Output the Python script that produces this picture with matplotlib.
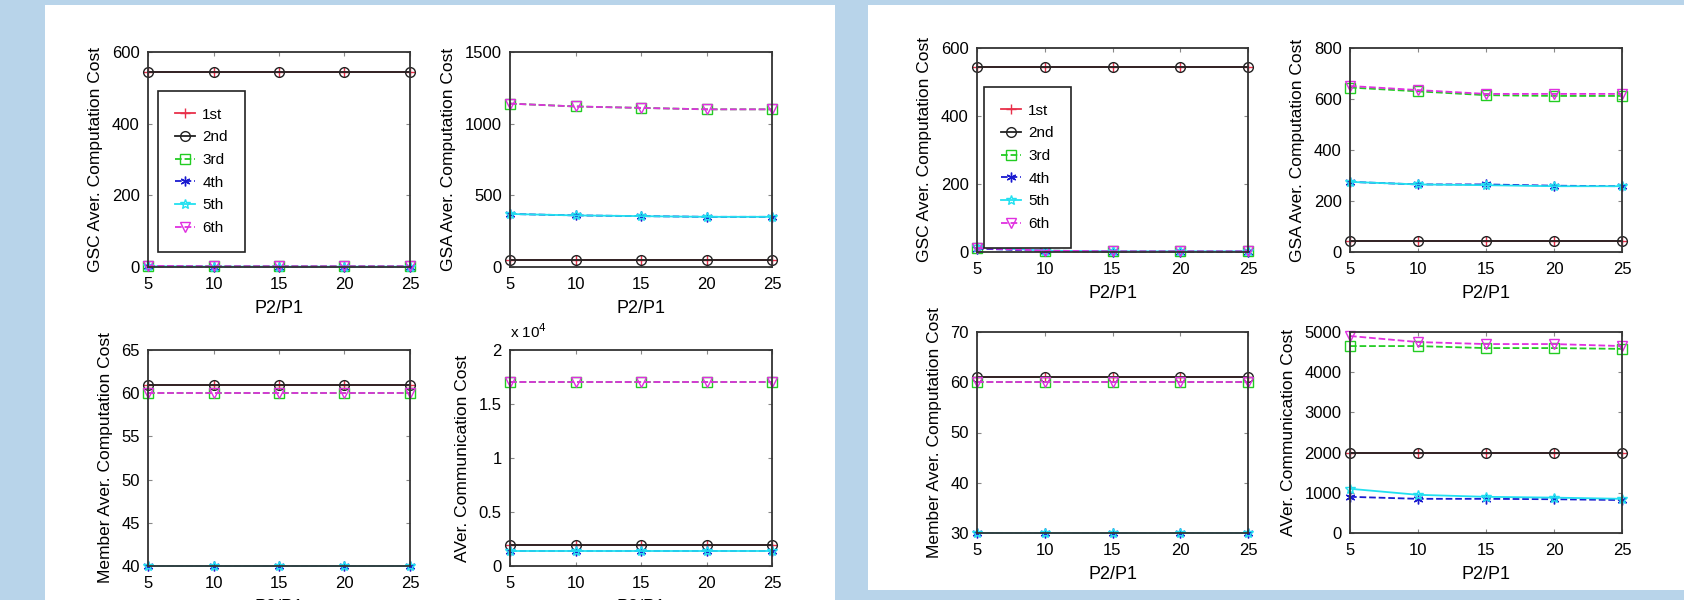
import numpy as np
import matplotlib.pyplot as plt
from matplotlib.patches import Rectangle
from matplotlib.ticker import FuncFormatter

plt.rcParams['font.family'] = ['Liberation Sans', 'DejaVu Sans']

# x axis values (P2/P1)
ratio = [5, 10, 15, 20, 25]
labels = ['1st', '2nd', '3rd', '4th', '5th', '6th']

# ---- left figure ----
L_gsc = [
    [545, 545, 545, 545, 545],
    [545, 545, 545, 545, 545],
    [3, 2, 2, 2, 2],
    [2, 1, 1, 1, 1],
    [2, 1, 1, 1, 1],
    [3, 2, 2, 2, 2],
]
L_gsa = [
    [50, 50, 50, 50, 50],
    [50, 50, 50, 50, 50],
    [1140, 1120, 1110, 1100, 1100],
    [370, 360, 355, 350, 350],
    [370, 360, 355, 350, 350],
    [1140, 1120, 1110, 1100, 1100],
]
L_member = [
    [61, 61, 61, 61, 61],
    [61, 61, 61, 61, 61],
    [60, 60, 60, 60, 60],
    [40, 40, 40, 40, 40],
    [40, 40, 40, 40, 40],
    [60, 60, 60, 60, 60],
]
L_comm = [
    [1900, 1900, 1900, 1900, 1900],
    [1900, 1900, 1900, 1900, 1900],
    [17000, 17000, 17000, 17000, 17000],
    [1400, 1400, 1400, 1400, 1400],
    [1400, 1400, 1400, 1400, 1400],
    [17000, 17000, 17000, 17000, 17000],
]

# ---- right figure ----
R_gsc = [
    [545, 545, 545, 545, 545],
    [545, 545, 545, 545, 545],
    [12, 4, 2, 2, 2],
    [10, 3, 1, 1, 1],
    [15, 4, 2, 2, 2],
    [12, 4, 2, 2, 2],
]
R_gsa = [
    [45, 45, 45, 45, 45],
    [45, 45, 45, 45, 45],
    [645, 630, 615, 612, 612],
    [275, 265, 265, 260, 258],
    [275, 265, 262, 258, 258],
    [651, 635, 620, 620, 620],
]
R_member = [
    [61, 61, 61, 61, 61],
    [61, 61, 61, 61, 61],
    [60, 60, 60, 60, 60],
    [30, 30, 30, 30, 30],
    [30, 30, 30, 30, 30],
    [60, 60, 60, 60, 60],
]
R_comm = [
    [2000, 2000, 2000, 2000, 2000],
    [2000, 2000, 2000, 2000, 2000],
    [4650, 4650, 4600, 4600, 4580],
    [900, 850, 850, 840, 820],
    [1100, 950, 900, 880, 850],
    [4900, 4750, 4700, 4700, 4650],
]

colors = ['#e8304a', '#222222', '#22cc22', '#1a1ad0', '#22e0f0', '#e030e0']
markers = ['+', 'o', 's', (6, 2, 0), '*', 'v']
styles = ['-', '-', '--', '--', '-', '--']

fig = plt.figure(figsize=(16.84, 6.0), dpi=100)
fig.patch.set_facecolor('#b8d4ea')
W, H = 1684.0, 600.0
# white panels behind the two figures
fig.patches.append(Rectangle((45 / W, 0), 790 / W, 595 / H, transform=fig.transFigure,
                             facecolor='white', edgecolor='none', zorder=-5))
fig.patches.append(Rectangle((868 / W, 10 / H), 816 / W, 585 / H, transform=fig.transFigure,
                             facecolor='white', edgecolor='none', zorder=-5))


def make_ax(x0, x1, y0, y1):
    return fig.add_axes([x0 / W, 1 - y1 / H, (x1 - x0) / W, (y1 - y0) / H])


def draw(ax, data, ylim, yticks, ylabel):
    for i in range(6):
        ax.plot(ratio, data[i], color=colors[i], marker=markers[i], linestyle=styles[i],
                markerfacecolor='none', markersize=7, linewidth=1.3, label=labels[i],
                clip_on=False)
    ax.set_xlim(5, 25)
    ax.set_xticks(ratio)
    ax.set_ylim(*ylim)
    ax.set_yticks(yticks)
    ax.set_xlabel('P2/P1', fontsize=13, labelpad=6)
    ax.set_ylabel(ylabel, fontsize=12.5, labelpad=6)
    ax.tick_params(direction='in', length=3, labelsize=12, top=True, right=True,
                   color='#888888')
    ax.tick_params(axis='x', pad=7)
    ax.tick_params(axis='y', pad=6)
    for s in ax.spines.values():
        s.set_linewidth(1.3)
        s.set_color('#333333')


def legend(ax, anchor):
    lg = ax.legend(loc='upper left', bbox_to_anchor=anchor, fontsize=11, fancybox=False,
                   edgecolor='#222222', framealpha=1, handlelength=1.3, handletextpad=0.5,
                   labelspacing=0.57, borderpad=1.1, borderaxespad=0)
    lg.get_frame().set_linewidth(1.2)


# left figure
ax1 = make_ax(148, 410, 52, 267)
draw(ax1, L_gsc, (0, 600), [0, 200, 400, 600], 'GSC Aver. Computation Cost')
legend(ax1, (0.038, 0.82))
ax2 = make_ax(510, 772, 52, 267)
draw(ax2, L_gsa, (0, 1500), [0, 500, 1000, 1500], 'GSA Aver. Computation Cost')
ax3 = make_ax(148, 410, 350, 566)
draw(ax3, L_member, (40, 65), [40, 45, 50, 55, 60, 65], 'Member Aver. Computation Cost')
ax4 = make_ax(510, 772, 350, 566)
draw(ax4, L_comm, (0, 20000), [0, 5000, 10000, 15000, 20000], 'AVer. Communication Cost')
ax4.yaxis.set_major_formatter(FuncFormatter(lambda v, p: f'{v / 1e4:g}'))
ax4.text(0.0, 1.04, 'x 10$^4$', transform=ax4.transAxes, fontsize=11, ha='left', va='bottom')

# right figure
ax5 = make_ax(977, 1248, 48, 252)
draw(ax5, R_gsc, (0, 600), [0, 200, 400, 600], 'GSC Aver. Computation Cost')
legend(ax5, (0.026, 0.81))
ax6 = make_ax(1350, 1622, 48, 252)
draw(ax6, R_gsa, (0, 800), [0, 200, 400, 600, 800], 'GSA Aver. Computation Cost')
ax7 = make_ax(977, 1248, 332, 533)
draw(ax7, R_member, (30, 70), [30, 40, 50, 60, 70], 'Member Aver. Computation Cost')
ax8 = make_ax(1350, 1622, 332, 533)
draw(ax8, R_comm, (0, 5000), [0, 1000, 2000, 3000, 4000, 5000], 'AVer. Communication Cost')

fig.savefig('out.png', dpi=100, facecolor=fig.get_facecolor())
